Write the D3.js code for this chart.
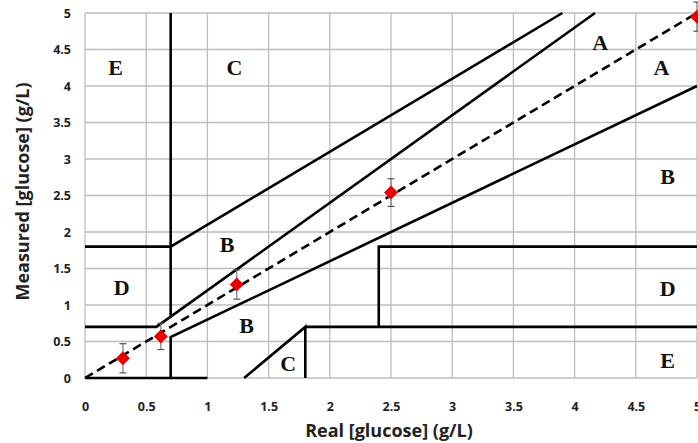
<!DOCTYPE html>
<html>
<head>
<meta charset="utf-8">
<script src="https://cdn.jsdelivr.net/npm/d3@7"></script>
<style>
  body { margin: 0; background: #fff; }
  svg { display: block; }
</style>
</head>
<body>
<div id="chart-area"></div>
<script>
// data
var ticks = [0, 0.5, 1, 1.5, 2, 2.5, 3, 3.5, 4, 4.5, 5]
var tickLabels = ['0', '0.5', '1', '1.5', '2', '2.5', '3', '3.5', '4', '4.5', '5']

var realVals = [0.31, 0.62, 1.24, 2.5, 5]
var measuredVals = [0.27, 0.57, 1.28, 2.54, 4.95]
var errVals = [0.2, 0.18, 0.2, 0.19, 0.2]

// zone boundaries (g/L), each one polyline
var zoneLines = [
  [[0, 0.7], [0.583, 0.7], [5 / 1.2, 5]],
  [[0.7, 0.84], [0.7, 5]],
  [[0, 1.8], [0.7, 1.8], [3.9, 5]],
  [[0.7, 0], [0.7, 0.56], [5, 4]],
  [[1.3, 0], [1.8, 0.7], [1.8, 0]],
  [[1.8, 0.7], [5, 0.7]],
  [[2.4, 0.7], [2.4, 1.8], [5, 1.8]],
  [[0, 0], [1, 0]]
]

var zoneNames = ['E', 'C', 'A', 'A', 'B', 'B', 'D', 'D', 'B', 'C', 'E']
var zoneX = [0.25, 1.22, 4.21, 4.71, 4.76, 1.16, 0.3, 4.76, 1.32, 1.66, 4.76]
var zoneY = [4.25, 4.25, 4.6, 4.25, 2.76, 1.83, 1.24, 1.22, 0.72, 0.2, 0.24]

var margin = {left: 85, right: 1, top: 13, bottom: 65}
var W = 698, H = 443
var width = W - margin.left - margin.right
var height = H - margin.top - margin.bottom

var svg = d3.select('#chart-area').append('svg')
  .attr('width', W)
  .attr('height', H)

var group = svg.append('g')
  .attr('transform', 'translate(' + margin.left + ',' + margin.top + ')')

var xScale = d3.scaleLinear().domain([0, 5]).range([0, width])
var yScale = d3.scaleLinear().domain([0, 5]).range([height, 0])

// grid
group.selectAll('.vgrid').data(ticks).enter().append('line')
  .attr('x1', d => xScale(d)).attr('x2', d => xScale(d))
  .attr('y1', 0).attr('y2', height)
  .attr('stroke', '#bdbdbd').attr('stroke-width', 1.3)

group.selectAll('.hgrid').data(ticks).enter().append('line')
  .attr('y1', d => yScale(d)).attr('y2', d => yScale(d))
  .attr('x1', 0).attr('x2', width)
  .attr('stroke', '#bdbdbd').attr('stroke-width', 1.3)

// axes (labels only)
var xAxis = d3.axisBottom(xScale).tickValues(ticks)
  .tickFormat((d, i) => tickLabels[i]).tickSize(0).tickPadding(24)
var gx = group.append('g').attr('transform', 'translate(0,' + height + ')').call(xAxis)
gx.select('.domain').remove()
gx.selectAll('text').attr('font-family', 'Open Sans, sans-serif')
  .attr('font-weight', 'bold').attr('font-size', '12.5px').attr('fill', '#222')

var yAxis = d3.axisLeft(yScale).tickValues(ticks)
  .tickFormat((d, i) => tickLabels[i]).tickSize(0).tickPadding(14)
var gy = group.append('g').call(yAxis)
gy.select('.domain').remove()
gy.selectAll('text').attr('font-family', 'Open Sans, sans-serif')
  .attr('font-weight', 'bold').attr('font-size', '12.5px').attr('fill', '#222')

// axis titles
group.append('text')
  .attr('x', xScale(2.5) - 2)
  .attr('y', height + 59)
  .attr('text-anchor', 'middle')
  .attr('font-family', 'Open Sans, sans-serif')
  .attr('font-weight', 'bold')
  .attr('font-size', '18px')
  .attr('fill', '#222')
  .text('Real [glucose] (g/L)')

group.append('text')
  .attr('transform', 'rotate(-90)')
  .attr('x', -height / 2 + 4)
  .attr('y', -56)
  .attr('text-anchor', 'middle')
  .attr('font-family', 'Open Sans, sans-serif')
  .attr('font-weight', 'bold')
  .attr('font-size', '18px')
  .attr('fill', '#222')
  .text('Measured [glucose] (g/L)')

// zone lines
var line = d3.line().x(d => xScale(d[0])).y(d => yScale(d[1]))

group.selectAll('.zone').data(zoneLines).enter().append('path')
  .attr('d', line)
  .attr('fill', 'none')
  .attr('stroke', '#000')
  .attr('stroke-width', 2.6)

// identity line
group.append('path')
  .attr('d', line([[0, 0], [5, 5]]))
  .attr('fill', 'none')
  .attr('stroke', '#000')
  .attr('stroke-width', 2.6)
  .attr('stroke-dasharray', '9,5')

// zone letters
group.selectAll('.zlab').data(zoneNames).enter().append('text')
  .attr('x', (d, i) => xScale(zoneX[i]))
  .attr('y', (d, i) => yScale(zoneY[i]))
  .attr('text-anchor', 'middle')
  .attr('dominant-baseline', 'central')
  .attr('font-family', 'Liberation Serif, serif')
  .attr('font-weight', 'bold')
  .attr('font-size', '22px')
  .attr('fill', '#111')
  .text(d => d)

// error bars
var pts = realVals.map((d, i) => ({x: d, y: measuredVals[i], e: errVals[i]}))

var eb = group.selectAll('.eb').data(pts).enter().append('g')
eb.append('line')
  .attr('x1', d => xScale(d.x)).attr('x2', d => xScale(d.x))
  .attr('y1', d => yScale(d.y + d.e)).attr('y2', d => yScale(d.y - d.e))
  .attr('stroke', '#777').attr('stroke-width', 1.2)
eb.append('line')
  .attr('x1', d => xScale(d.x) - 3.5).attr('x2', d => xScale(d.x) + 3.5)
  .attr('y1', d => yScale(d.y + d.e)).attr('y2', d => yScale(d.y + d.e))
  .attr('stroke', '#555').attr('stroke-width', 1.2)
eb.append('line')
  .attr('x1', d => xScale(d.x) - 3.5).attr('x2', d => xScale(d.x) + 3.5)
  .attr('y1', d => yScale(d.y - d.e)).attr('y2', d => yScale(d.y - d.e))
  .attr('stroke', '#555').attr('stroke-width', 1.2)

// diamonds
group.selectAll('.pt').data(pts).enter().append('path')
  .attr('transform', d => 'translate(' + xScale(d.x) + ',' + yScale(d.y) + ')')
  .attr('d', 'M0,-7L7,0L0,7L-7,0Z')
  .attr('fill', '#e60000')
</script>
</body>
</html>
